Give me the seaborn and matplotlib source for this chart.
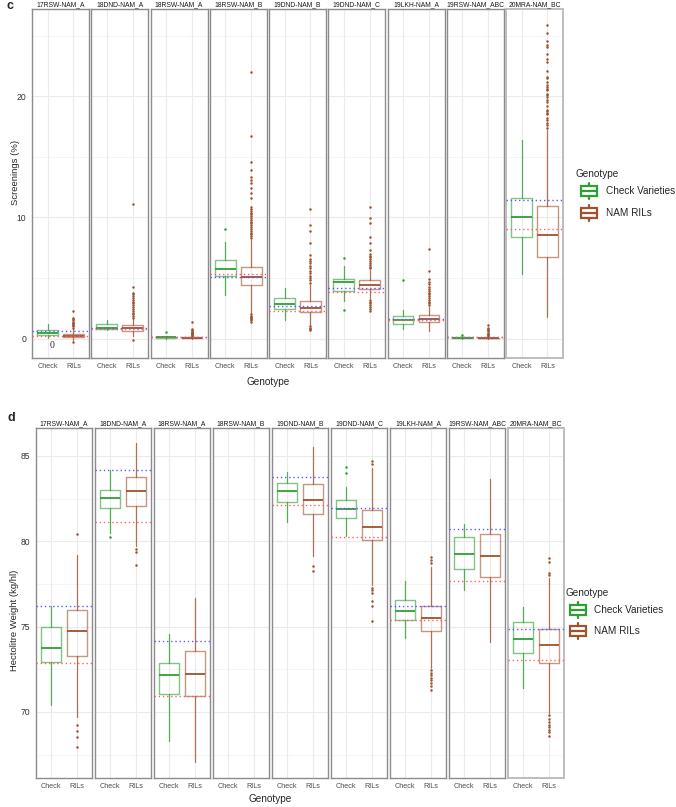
import matplotlib
matplotlib.use('Agg')
import matplotlib.pyplot as plt
from matplotlib.patches import Rectangle
import seaborn as sns

# ============================================================
# DATA
# ============================================================
facets = ["17RSW-NAM_A", "18DND-NAM_A", "18RSW-NAM_A", "18RSW-NAM_B", "19DND-NAM_B",
          "19DND-NAM_C", "19LKH-NAM_A", "19RSW-NAM_ABC", "20MRA-NAM_BC"]
groups = ["Check", "RILs"]

# panel c - Screenings (%); box = (whisker low, q1, median, q3, whisker high)
c_check_box = [(0.05, 0.30, 0.45, 0.72, 1.20), (0.68, 0.80, 0.90, 1.21, 1.56),
               (0.00, 0.05, 0.10, 0.15, 0.20), (3.62, 5.19, 5.76, 6.48, 7.98),
               (1.56, 2.44, 2.83, 3.32, 4.17), (3.07, 3.90, 4.69, 4.94, 6.03),
               (0.80, 1.21, 1.56, 1.89, 2.33), (0.00, 0.04, 0.08, 0.12, 0.18),
               (5.35, 8.42, 10.07, 11.63, 16.38)]
c_rils_box = [(-0.10, 0.11, 0.22, 0.39, 0.80), (0.20, 0.63, 0.85, 1.10, 1.60),
              (0.00, 0.02, 0.05, 0.10, 0.20), (2.10, 4.39, 5.07, 5.90, 8.15),
              (1.10, 2.20, 2.55, 3.10, 4.40), (3.35, 4.12, 4.44, 4.83, 5.68),
              (0.60, 1.34, 1.59, 1.95, 2.60), (0.00, 0.02, 0.05, 0.09, 0.15),
              (1.78, 6.72, 8.58, 10.92, 17.20)]
c_check_out = [[], [], [0.52], [9.03], [], [2.33, 6.69], [4.83], [0.33], []]
c_rils_out = [
    [-0.3, 0.9, 1.0, 1.1, 1.2, 1.3, 1.4, 1.5, 1.6, 1.7, 2.3],
    [-0.1, 1.7, 1.85, 2.0, 2.15, 2.3, 2.45, 2.6, 2.75, 2.9, 3.05, 3.2, 3.35, 3.5, 3.65, 3.8, 4.3, 11.1],
    [0.25, 0.3, 0.35, 0.4, 0.45, 0.5, 0.55, 0.6, 0.7, 0.8, 1.37],
    [1.4, 1.5, 1.6, 1.7, 1.8, 1.9, 2.0, 8.3, 8.45, 8.6, 8.75, 8.9, 9.05, 9.2, 9.35, 9.5, 9.65,
     9.8, 9.95, 10.1, 10.25, 10.4, 10.55, 10.7, 10.85, 11.57, 11.98, 12.4, 12.8, 13.1, 13.36,
     13.9, 14.6, 16.7, 22.0],
    [0.7, 0.8, 0.9, 1.0, 4.6, 4.8, 5.0, 5.2, 5.4, 5.6, 5.8, 6.0, 6.2, 6.4, 6.6, 6.9, 7.9, 8.9,
     9.4, 10.7],
    [2.3, 2.45, 2.6, 2.75, 2.9, 3.05, 3.2, 5.8, 5.95, 6.1, 6.25, 6.4, 6.55, 6.7, 6.85, 7.0,
     7.33, 7.88, 8.42, 9.52, 9.93, 10.84],
    [2.75, 2.9, 3.05, 3.2, 3.35, 3.5, 3.65, 3.8, 3.95, 4.1, 4.3, 4.5, 4.7, 4.9, 5.6, 7.4],
    [0.2, 0.3, 0.4, 0.5, 0.6, 0.7, 0.8, 0.9, 1.15],
    [17.4, 17.6, 17.8, 18.0, 18.2, 18.5, 18.6, 18.8, 18.9, 19.2, 19.5, 19.7, 19.9, 20.1, 20.2,
     20.5, 20.6, 20.8, 20.9, 21.2, 21.5, 21.6, 22.1, 22.8, 23.1, 23.5, 24.1, 24.2, 24.6, 25.2,
     25.9],
]
c_blue = [0.60, 0.85, 0.16, 5.05, 2.65, 4.20, 1.59, 0.10, 11.44]
c_red = [0.25, 0.80, 0.10, 5.30, 2.30, 3.84, 1.53, 0.10, 9.08]

# panel d - Hectolitre weight (kg/hl)
d_check_box = [(70.41, 72.94, 73.74, 74.95, 76.23), (80.48, 81.94, 82.56, 83.00, 84.16),
               (68.30, 71.04, 72.16, 72.88, 74.54), None,
               (81.16, 82.29, 82.94, 83.42, 84.06), (80.30, 81.36, 81.88, 82.43, 83.17),
               (74.34, 75.36, 75.94, 76.56, 77.65), (77.13, 78.38, 79.23, 80.25, 81.03),
               (71.38, 73.47, 74.30, 75.26, 76.15)]
d_rils_box = [(69.73, 73.29, 74.75, 75.96, 79.21), (79.74, 82.06, 82.97, 83.79, 85.74),
              (67.07, 70.91, 72.24, 73.56, 76.68), None,
              (79.12, 81.59, 82.43, 83.35, 85.55), (77.46, 80.05, 80.85, 81.84, 84.30),
              (72.59, 74.73, 75.51, 76.23, 78.50), (74.09, 77.91, 79.16, 80.40, 83.64),
              (69.93, 72.88, 73.90, 74.89, 77.85)]
d_check_out = [[], [80.25], [], [], [], [84.37, 83.99], [], [], []]
d_rils_out = [
    [80.42, 69.22, 68.89, 68.54, 67.93],
    [79.55, 79.37, 78.63],
    [],
    [],
    [78.57, 78.24],
    [84.55, 84.7, 77.27, 77.13, 76.97, 76.48, 76.19, 75.31],
    [78.73, 78.88, 79.08, 72.45, 72.3, 72.15, 72.0, 71.85, 71.7, 71.55, 71.3],
    [],
    [78.0, 78.14, 78.76, 79.02, 69.8, 69.6, 69.4, 69.25, 69.1, 68.95, 68.8, 68.6],
]
d_blue = [76.23, 84.16, 74.15, None, 83.79, 81.98, 76.21, 80.72, 74.87]
d_red = [72.88, 81.12, 70.95, None, 82.15, 80.25, 75.36, 77.67, 73.06]

GREEN = '#2f9e35'
BROWN = '#a0522d'
W, H = 676, 807


def fx(px):
    return px / W


def fy(py):
    return 1 - py / H


sns.set_theme(style="whitegrid")
plt.rcParams['font.family'] = ['Liberation Sans', 'DejaVu Sans']

fig = plt.figure(figsize=(W / 100, H / 100), dpi=100)


def draw_box(ax, box, out, pos, col):
    if box is None:
        return
    lo, q1, med, q3, hi = box
    st = dict(whislo=lo, q1=q1, med=med, q3=q3, whishi=hi, fliers=out)
    ax.bxp([st], positions=[pos], widths=0.8, showcaps=False,
           boxprops=dict(color=col, lw=1.0, alpha=0.6),
           medianprops=dict(color=col, lw=1.3),
           whiskerprops=dict(color=col, lw=0.9, alpha=0.8),
           flierprops=dict(marker='o', markersize=1.8, markerfacecolor=col,
                           markeredgecolor='none'))


def draw_panel(top, bottom, left, step, width, check_box, rils_box, check_out, rils_out,
               blue, red, ylim, major, minor):
    for i, name in enumerate(facets):
        l = left + i * step
        ax = fig.add_axes([fx(l), fy(bottom), width / W, (bottom - top) / H])
        ax.set_facecolor('white')
        ax.set_xlim(0.4, 2.6)
        ax.set_ylim(*ylim)
        ax.set_yticks(major)
        ax.set_yticks(minor, minor=True)
        ax.grid(False)
        for y in major:
            ax.axhline(y, color='#ebebeb', lw=0.8, zorder=0)
        for y in minor:
            ax.axhline(y, color='#f2f2f2', lw=0.5, zorder=0)
        for x in [1, 2]:
            ax.axvline(x, color='#ebebeb', lw=0.8, zorder=0)
        if blue[i] is not None:
            ax.axhline(blue[i], color='#5a5aff', lw=1.0, ls=(0, (1, 2)), zorder=3)
            ax.axhline(red[i], color='#ff6060', lw=1.0, ls=(0, (1, 2)), zorder=3)
        draw_box(ax, check_box[i], check_out[i], 1, GREEN)
        draw_box(ax, rils_box[i], rils_out[i], 2, BROWN)
        ax.set_xticks([1, 2])
        ax.set_xticklabels(groups, fontsize=5.2, color='#4d4d4d')
        ax.tick_params(axis='x', length=2, width=0.5, color='#888888', pad=1.5)
        ax.tick_params(axis='y', which='both', length=0)
        if i == 0:
            ax.set_yticklabels([f"{v:g}" for v in major], fontsize=6.2, color='#333333')
            ax.tick_params(axis='y', length=2, width=0.5, color='#888888', pad=2)
        else:
            ax.set_yticklabels([])
        ec = '#bdbdbd' if i == len(facets) - 1 else '#8c8c8c'
        for s in ax.spines.values():
            s.set_visible(True)
            s.set_color(ec)
            s.set_linewidth(1.0 if i < len(facets) - 1 else 1.4)
        ax.set_title(name, fontsize=4.9, pad=1.8, color='#1a1a1a')


draw_panel(9, 358, 32, 59.25, 57, c_check_box, c_rils_box, c_check_out, c_rils_out,
           c_blue, c_red, (-1.6, 27.2), [0, 10, 20], [5, 15, 25])
draw_panel(428, 778, 36, 59.0, 56, d_check_box, d_rils_box, d_check_out, d_rils_out,
           d_blue, d_red, (66.13, 86.64), [70, 75, 80, 85], [67.5, 72.5, 77.5, 82.5])

# panel letters, axis titles and the stray "0"
fig.text(fx(10), fy(6), "c", fontsize=9, fontweight='bold', ha='center', va='center')
fig.text(fx(11), fy(418), "d", fontsize=9, fontweight='bold', ha='center', va='center')
fig.text(fx(15), fy(172), "Screenings (%)", rotation=90, fontsize=6.8, ha='center', va='center')
fig.text(fx(15), fy(620), "Hectolitre Weight (kg/hl)", rotation=90, fontsize=6.8,
         ha='center', va='center')
fig.text(fx(268), fy(382), "Genotype", fontsize=7.2, ha='center', va='center')
fig.text(fx(270), fy(799), "Genotype", fontsize=7.2, ha='center', va='center')
fig.text(fx(52), fy(346), "0", fontsize=7, ha='center', va='center',
         family=['Liberation Serif', 'DejaVu Serif'])


# legends drawn as ggplot-like key glyphs
def draw_legend(title_xy, key_x, key_ys, text_x):
    lax = fig.add_axes([0, 0, 1, 1], facecolor='none')
    lax.set_xlim(0, W)
    lax.set_ylim(H, 0)
    lax.axis('off')
    lax.text(title_xy[0], title_xy[1], "Genotype", fontsize=7.2, ha='left', va='center')
    for (label, col), ky in zip([("Check Varieties", GREEN), ("NAM RILs", BROWN)], key_ys):
        lax.add_patch(Rectangle((key_x - 8, ky - 5), 16, 10, fill=True, facecolor='white',
                                edgecolor=col, lw=1.6))
        lax.plot([key_x - 8, key_x + 8], [ky, ky], color=col, lw=1.6)
        lax.plot([key_x, key_x], [ky - 8, ky - 5], color=col, lw=1.6)
        lax.plot([key_x, key_x], [ky + 5, ky + 8], color=col, lw=1.6)
        lax.text(text_x, ky, label, fontsize=7.2, ha='left', va='center')


draw_legend((576, 174), 589, [191, 213], 606)
draw_legend((565, 593), 578, [610, 631], 594)

fig.savefig("out.png", dpi=100)
